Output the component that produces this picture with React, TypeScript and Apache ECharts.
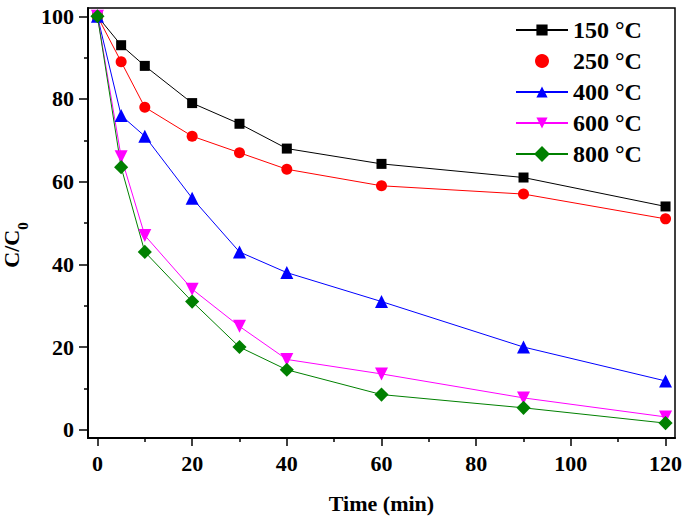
import React, { useEffect, useRef } from "react";
import * as echarts from "echarts";

const times = [0, 5, 10, 20, 30, 40, 60, 90, 120];
const s150 = [100, 93, 88, 79, 74, 68, 64.3, 61, 54];
const s250 = [100, 89, 78, 71, 67, 63, 59, 57, 51];
const s400 = [100, 76, 71, 56, 43, 38, 31, 20, 11.8];
const s600 = [100, 66, 47, 34, 25, 17, 13.5, 7.7, 3.1];
const s800 = [100, 63.5, 43, 31, 20, 14.5, 8.5, 5.3, 1.6];

const seriesNames = ["150 °C", "250 °C", "400 °C", "600 °C", "800 °C"];
const xMajor = [0, 20, 40, 60, 80, 100, 120];
const xMinor = [10, 30, 50, 70, 90, 110];
const yMajor = [0, 20, 40, 60, 80, 100];
const yMinor = [10, 30, 50, 70, 90];

const FONT = "Liberation Serif, Times New Roman, serif";

function pairs(vals: number[]) {
  return times.map((t, i) => [t, vals[i]]);
}

export default function App() {
  const ref = useRef<HTMLDivElement>(null);
  useEffect(() => {
    if (!ref.current) return;
    const chart = echarts.init(ref.current, null, { renderer: "svg" });
    const lbl = { fontFamily: FONT, fontWeight: "bold", fontSize: 22, color: "#000" };
    const mk = (
      name: string,
      data: number[],
      color: string,
      symbol: string,
      size: number,
      rotate = 0
    ) => ({
      name,
      type: "line",
      xAxisIndex: 0,
      yAxisIndex: 0,
      data: pairs(data),
      symbol,
      symbolSize: size,
      symbolRotate: rotate,
      lineStyle: { color, width: 1 },
      itemStyle: { color },
      z: 3,
    });
    chart.setOption({
      animation: false,
      backgroundColor: "#fff",
      grid: {
        left: 88,
        top: 8,
        right: 10,
        bottom: 82,
        show: true,
        borderColor: "#000",
        borderWidth: 1.5,
        containLabel: false,
        outerBoundsMode: "none",
      },
      legend: {
        orient: "vertical",
        left: 515,
        top: 18,
        padding: 0,
        itemWidth: 52,
        itemHeight: 14,
        itemGap: 7,
        textStyle: { fontFamily: FONT, fontWeight: "bold", fontSize: 24, color: "#000", lineHeight: 24 },
        data: [
          { name: seriesNames[0] },
          { name: seriesNames[1], icon: "circle" },
          { name: seriesNames[2] },
          { name: seriesNames[3] },
          { name: seriesNames[4] },
        ],
      },
      xAxis: [
        {
          type: "value",
          min: -2,
          max: 122,
          position: "bottom",
          name: "Time (min)",
          nameLocation: "middle",
          nameGap: 54,
          nameTextStyle: { fontFamily: FONT, fontWeight: "bold", fontSize: 22, color: "#000" },
          axisLine: { show: true, onZero: false, lineStyle: { color: "#000", width: 2 } },
          axisTick: { show: true, length: 8, customValues: xMajor, lineStyle: { color: "#000", width: 1.5 } },
          axisLabel: { ...lbl, margin: 14, customValues: xMajor },
          splitLine: { show: false },
        },
        {
          type: "value",
          min: -2,
          max: 122,
          position: "bottom",
          axisLine: { show: false, onZero: false },
          axisTick: { show: true, length: 4, customValues: xMinor, lineStyle: { color: "#000", width: 1.5 } },
          axisLabel: { show: false },
          splitLine: { show: false },
        },
      ],
      yAxis: [
        {
          type: "value",
          min: -2,
          max: 102,
          position: "left",
          name: "{a|C/C}{b|0}",
          nameLocation: "middle",
          nameGap: 57,
          nameTextStyle: {
            padding: [0, 44, 0, 0],
            rich: {
              a: { fontFamily: FONT, fontWeight: "bold", fontSize: 22, color: "#000", lineHeight: 24, verticalAlign: "top" },
              b: { fontFamily: FONT, fontWeight: "bold", fontSize: 15, color: "#000", lineHeight: 30, verticalAlign: "bottom" },
            },
          },
          axisLine: { show: true, onZero: false, lineStyle: { color: "#000", width: 2 } },
          axisTick: { show: true, length: 9, customValues: yMajor, lineStyle: { color: "#000", width: 1.5 } },
          axisLabel: { ...lbl, margin: 14, customValues: yMajor },
          splitLine: { show: false },
        },
        {
          type: "value",
          min: -2,
          max: 102,
          position: "left",
          axisLine: { show: false, onZero: false },
          axisTick: { show: true, length: 4, customValues: yMinor, lineStyle: { color: "#000", width: 1.5 } },
          axisLabel: { show: false },
          splitLine: { show: false },
        },
      ],
      series: [
        mk(seriesNames[0], s150, "#000000", "rect", 10),
        mk(seriesNames[1], s250, "#ff0000", "circle", 11),
        mk(seriesNames[2], s400, "#0000ff", "triangle", 13),
        mk(seriesNames[3], s600, "#ff00ff", "triangle", 13, 180),
        mk(seriesNames[4], s800, "#008000", "rect", 10, 45),
      ],
    });
    return () => chart.dispose();
  }, []);
  return (
    <div
      ref={ref}
      style={{ position: "fixed", left: 0, top: 0, width: 685, height: 520, background: "#fff" }}
    />
  );
}
